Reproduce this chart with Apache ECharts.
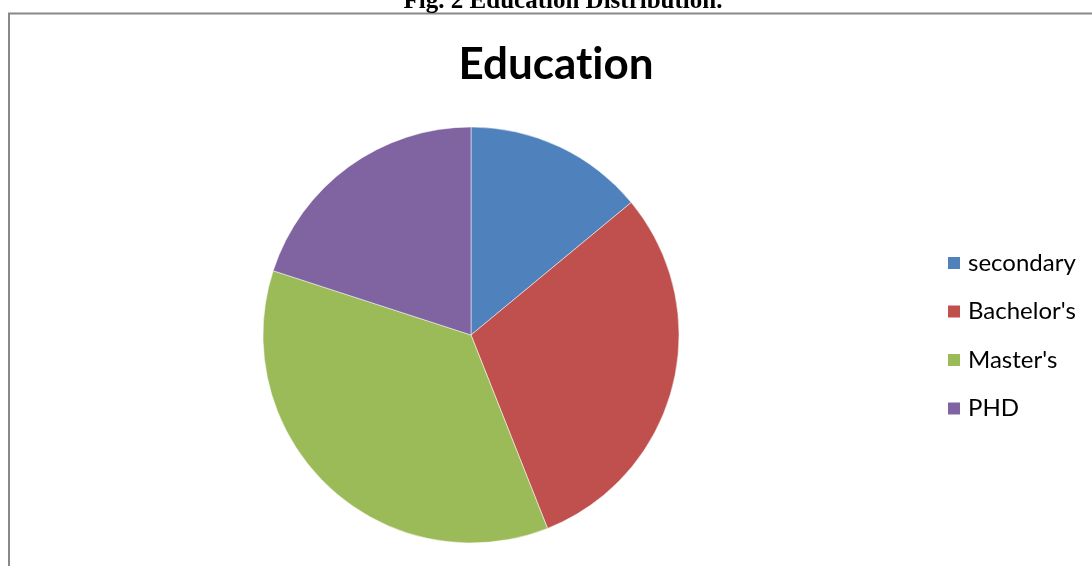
<!DOCTYPE html>
<html>
<head>
<meta charset="utf-8">
<script src="https://cdn.jsdelivr.net/npm/echarts@6/dist/echarts.min.js"></script>
<style>
  html, body { margin: 0; padding: 0; background: #fff; }
  #main { width: 1092px; height: 566px; }
</style>
</head>
<body>
<div id="main"></div>
<script>
// education levels and their shares (%)
var categories = ['secondary', "Bachelor's", "Master's", 'PHD'];
var shares = [14, 30, 36, 20];
var colors = ['#4F81BD', '#C0504D', '#9BBB59', '#8064A2'];

var titleStyle = {
    fontFamily: 'Lato',
    fontWeight: 'bold',
    fontSize: 44,
    color: '#000'
};

var myChart = echarts.init(document.getElementById('main'));
var option = {
    animation: false,
    color: colors,
    title: {
        // split between t and i so Lato doesn't draw the "ti" ligature
        text: '{t|Educat}{t|ion}',
        left: 551,
        top: 38,
        textAlign: 'center',
        textStyle: {
            fontFamily: 'Lato',
            fontWeight: 'bold',
            fontSize: 44,
            color: '#000',
            rich: { t: titleStyle }
        }
    },
    legend: {
        orient: 'vertical',
        left: 946,
        top: 251,
        padding: 0,
        itemWidth: 14,
        itemHeight: 14,
        itemGap: 24.5,
        icon: 'rect',
        data: categories,
        textStyle: {
            fontFamily: 'Lato',
            fontSize: 24,
            color: '#000',
            padding: [0, 0, 0, 2]
        }
    },
    graphic: [
        {
            type: 'rect',
            shape: { x: 9, y: 13.5, width: 1200, height: 700 },
            style: { fill: 'none', stroke: '#888', lineWidth: 2 },
            silent: true
        },
        {
            type: 'text',
            x: 563,
            y: 14,
            style: {
                text: 'Fig. 2 Education Distribution.',
                font: 'bold 25px "Liberation Serif"',
                fill: '#000',
                textAlign: 'center',
                textVerticalAlign: 'bottom'
            },
            silent: true
        }
    ],
    series: [
        {
            name: 'Education',
            type: 'pie',
            radius: 208,
            center: [471, 335],
            startAngle: 90,
            clockwise: true,
            label: { show: false },
            labelLine: { show: false },
            itemStyle: { borderColor: '#fff', borderWidth: 0.5 },
            data: categories.map(function (c, i) {
                return { name: c, value: shares[i] };
            })
        }
    ]
};
myChart.setOption(option);
</script>
</body>
</html>
